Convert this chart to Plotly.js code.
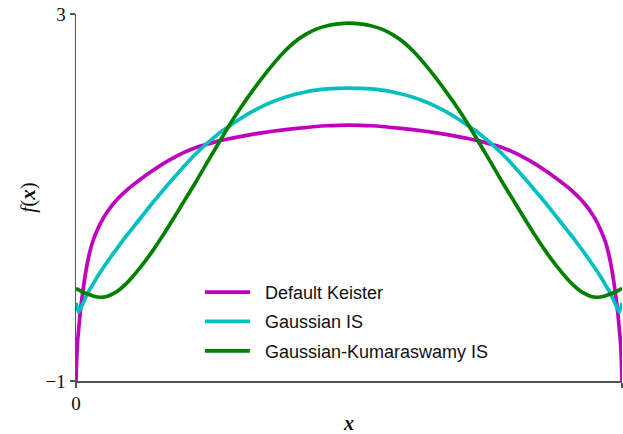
<!DOCTYPE html>
<html>
<head>
<meta charset="utf-8">
<script src="https://cdn.plot.ly/plotly-3.0.1.min.js"></script>
<style>html,body{margin:0;padding:0;background:#fff;}#chart{width:623px;height:434px;}</style>
</head>
<body>
<div id="chart"></div>
<script>
// sample positions on the left half (the curves are symmetric about x = 0.5)
const xHalf = [0, 0.0025, 0.005, 0.0075, 0.01, 0.015, 0.02, 0.025, 0.03, 0.04, 0.05, 0.06, 0.07, 0.08, 0.09, 0.1, 0.12, 0.14, 0.16, 0.18, 0.2, 0.22, 0.24, 0.26, 0.28, 0.3, 0.32, 0.34, 0.36, 0.38, 0.4, 0.42, 0.44, 0.46, 0.48, 0.5];
const keisterHalf = [-1, -0.6, -0.43, -0.27, -0.14, 0.08, 0.26, 0.4, 0.51, 0.66, 0.775, 0.867, 0.943, 1.008, 1.065, 1.116, 1.208, 1.292, 1.369, 1.437, 1.497, 1.545, 1.582, 1.614, 1.641, 1.664, 1.686, 1.705, 1.722, 1.737, 1.75, 1.762, 1.774, 1.782, 1.787, 1.789];
const gaussHalf = [-0.15, -0.21, -0.245, -0.22, -0.19, -0.125, -0.06, -0.005, 0.045, 0.145, 0.235, 0.32, 0.405, 0.485, 0.565, 0.64, 0.79, 0.94, 1.082, 1.22, 1.355, 1.48, 1.59, 1.69, 1.775, 1.855, 1.928, 1.99, 2.043, 2.087, 2.122, 2.15, 2.17, 2.183, 2.19, 2.193];
const gkHalf = [0.01, 0.001, -0.007, -0.016, -0.024, -0.038, -0.05, -0.061, -0.07, -0.084, -0.086, -0.07, -0.042, -0.002, 0.05, 0.112, 0.255, 0.415, 0.595, 0.785, 0.98, 1.175, 1.38, 1.58, 1.78, 1.965, 2.135, 2.295, 2.445, 2.58, 2.692, 2.775, 2.835, 2.872, 2.893, 2.9];
const seriesNames = ['Default Keister', 'Gaussian IS', 'Gaussian-Kumaraswamy IS'];
const seriesColors = ['#bf00bf', '#00bfbf', '#008000'];
const yTickVals = [-1, 3];
const yTickText = ['\u22121', '3'];
const xTickVals = [0, 1];
const xTickText = ['0', '1'];

function mirrorX(h) {
  const r = h.slice();
  for (let i = h.length - 2; i >= 0; i--) r.push(1 - h[i]);
  return r;
}
function mirrorY(h) {
  const r = h.slice();
  for (let i = h.length - 2; i >= 0; i--) r.push(h[i]);
  return r;
}
const xs = mirrorX(xHalf);
const ys = [mirrorY(keisterHalf), mirrorY(gaussHalf), mirrorY(gkHalf)];

const traces = ys.map((y, i) => ({
  x: xs, y: y, type: 'scatter', mode: 'lines',
  name: '\u00a0\u00a0' + seriesNames[i],
  legendgroup: 'g' + i,
  line: {color: seriesColors[i], width: 3.7, shape: 'spline', smoothing: 1, simplify: false}
}));

const serif = 'Liberation Serif, DejaVu Serif, serif';
const layout = {
  width: 623, height: 434,
  margin: {l: 76, r: 1, t: 14, b: 53},
  paper_bgcolor: '#fff', plot_bgcolor: '#fff',
  showlegend: true,
  legend: {
    x: 0.227, y: 0.292, xanchor: 'left', yanchor: 'top',
    bgcolor: 'rgba(0,0,0,0)', borderwidth: 0,
    font: {family: 'Liberation Sans, Arial, sans-serif', size: 18, color: '#111'},
    itemwidth: 45, tracegroupgap: 3
  },
  xaxis: {
    range: [0, 1], showgrid: false, zeroline: false,
    showline: true, linecolor: '#555', linewidth: 1.5,
    ticks: 'outside', ticklen: 5, tickcolor: '#555', tickwidth: 1.2,
    tickvals: xTickVals, ticktext: xTickText,
    tickfont: {family: serif, size: 19, color: '#111'},
    title: {text: '<b><i>x</i></b>', font: {family: serif, size: 20, color: '#111'}, standoff: 10}
  },
  yaxis: {
    range: [-1, 3], showgrid: false, zeroline: false,
    showline: true, linecolor: '#555', linewidth: 1.5,
    ticks: 'outside', ticklen: 5, tickcolor: '#555', tickwidth: 1.2,
    tickvals: yTickVals, ticktext: yTickText,
    tickfont: {family: serif, size: 19, color: '#111'},
    title: {text: '<i>f</i>(<b><i>x</i></b>)', font: {family: serif, size: 21, color: '#111'}, standoff: 4}
  }
};
Plotly.newPlot('chart', traces, layout, {staticPlot: true, displayModeBar: false});
</script>
</body>
</html>
